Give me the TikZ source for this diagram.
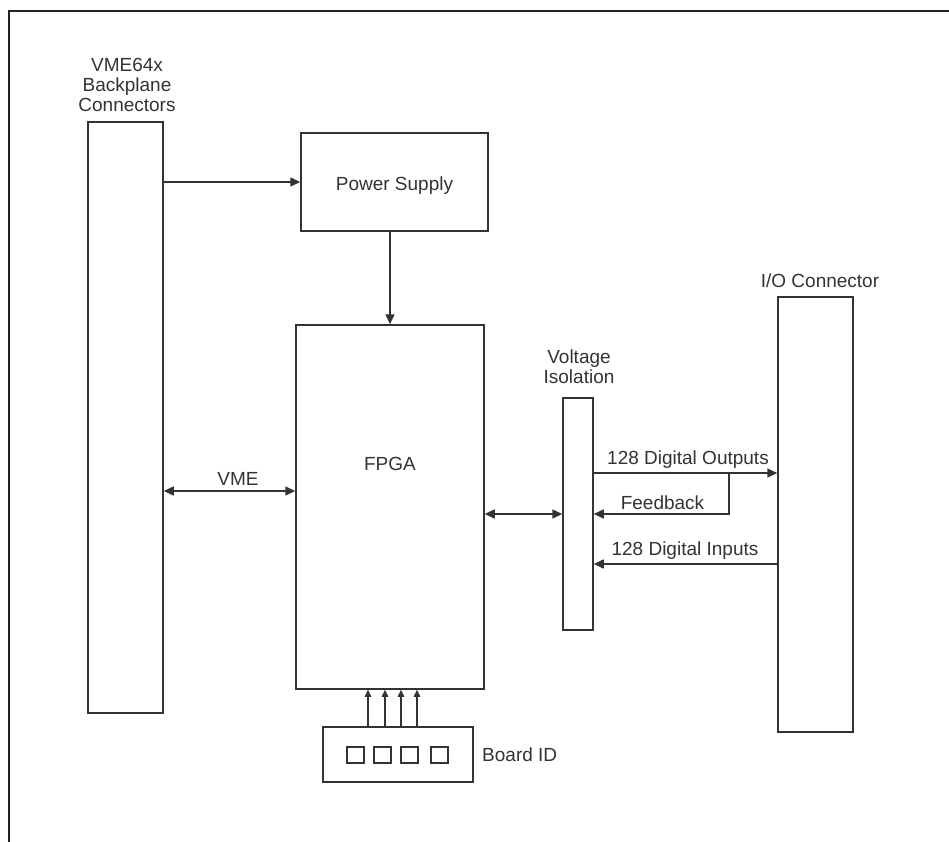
\documentclass[tikz,border=0pt]{standalone}
\usepackage{fontspec}
\setmainfont{Liberation Sans}
\usetikzlibrary{arrows.meta}
\definecolor{ln}{HTML}{333333}
\definecolor{frm}{HTML}{222222}
\begin{document}
\begin{tikzpicture}[x=1bp,y=-1bp,
  box/.style={draw=ln, line width=1.5bp, inner sep=0, fill=white},
  lbl/.style={text=ln, inner sep=0, font=\fontsize{19bp}{20bp}\selectfont},
  conn/.style={draw=ln, line width=1.5bp},
  tipa/.style={-{Triangle[length=10bp,width=9bp]}},
  tipb/.style={{Triangle[length=10bp,width=9bp]}-{Triangle[length=10bp,width=9bp]}},
  tipc/.style={-{Triangle[length=7bp,width=6.5bp]}}
]
\useasboundingbox (0,0) rectangle (949,842);
\fill[white] (0,0) rectangle (949,842);
% frame
\draw[frm, line width=2.6bp] (9,842) -- (9,11) -- (949,11);

% boxes
\node[box, minimum width=75bp, minimum height=591bp] (vme) at (125.5,417.5) {};
\node[box, minimum width=187bp, minimum height=98bp] (ps) at (394.5,182) {};
\node[box, minimum width=188bp, minimum height=364bp] (fpga) at (390,507) {};
\node[box, minimum width=30bp, minimum height=232bp] (vi) at (578,514) {};
\node[box, minimum width=75bp, minimum height=435bp] (io) at (815.5,514.5) {};
\node[box, minimum width=150bp, minimum height=55bp] (bid) at (398,754.5) {};
\foreach \i/\x in {1/355.5,2/382.5,3/409.5,4/439.5}
  \node[box, minimum width=17bp, minimum height=16bp] (sw\i) at (\x,755) {};

% labels
\node[lbl, align=center] (vmelbl) at (127,85) {VME64x\\Backplane\\Connectors};
\node[lbl, anchor=base] (pslbl) at (394.5,190) {Power Supply};
\node[lbl, anchor=base] (fpgalbl) at (390,470) {FPGA};
\node[lbl, anchor=base] (vmebus) at (238,485) {VME};
\node[lbl, align=center] (vilbl) at (579,367) {Voltage\\Isolation};
\node[lbl, anchor=base] (outlbl) at (688,464) {128 Digital Outputs};
\node[lbl, anchor=base] (fblbl) at (662.5,509) {Feedback};
\node[lbl, anchor=base] (inlbl) at (685,555) {128 Digital Inputs};
\node[lbl, anchor=base] (iolbl) at (820,287) {I/O Connector};
\node[lbl, anchor=base west] (bidlbl) at (482,761) {Board ID};

% helper levels
\coordinate (yvme) at (0,491);
\coordinate (yout) at (0,473);
\coordinate (yin) at (0,564);
\coordinate (fbk) at (729,473);

% connectors
\draw[conn, tipa] (vme.east |- ps) -- (ps.west);
\draw[conn, tipa] (ps.south -| fpga) -- (fpga.north);
\draw[conn, tipb] (vme.east |- yvme) -- (fpga.west |- yvme);
\draw[conn, tipb] (fpga.east |- vi) -- (vi.west);
\draw[conn, tipa] (vi.east |- yout) -- (io.west |- yout);
\draw[conn, tipa] (fbk) -- (fbk |- vi) -- (vi.east);
\draw[conn, tipa] (io.west |- yin) -- (vi.east |- yin);
\foreach \x in {368,385,401,417}
  \draw[conn, tipc] (bid.north -| \x,0) -- (fpga.south -| \x,0);
\end{tikzpicture}
\end{document}
